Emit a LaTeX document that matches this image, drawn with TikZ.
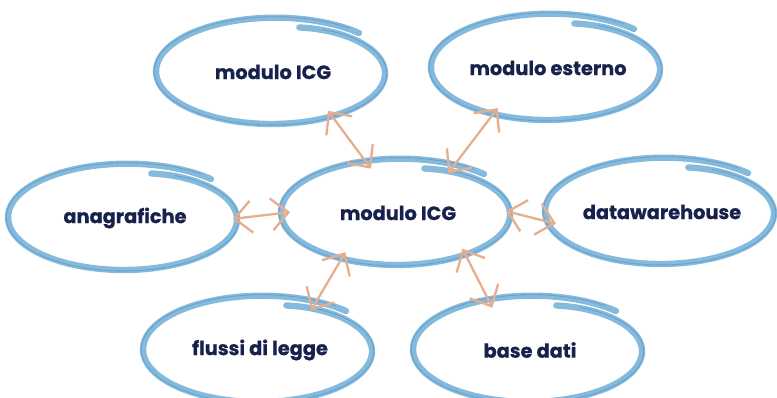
\documentclass[tikz,border=0pt]{standalone}
\usepackage{fontspec}
\setmainfont{Poppins}[BoldFeatures={FakeBold=0.8}]
\usetikzlibrary{shapes.geometric,arrows.meta}

\definecolor{loopblue}{HTML}{86BADD}
\definecolor{loopedge}{HTML}{4F8DBE}
\definecolor{linktan}{HTML}{E6AE8C}
\definecolor{labelnavy}{HTML}{18204C}

\begin{document}
\begin{tikzpicture}[x=0.02cm,y=0.02cm,
    topic/.style={ellipse,minimum width=4.6cm,minimum height=2.08cm,inner sep=0pt,
      font=\fontsize{11}{13}\selectfont\bfseries,text=labelnavy},
    link/.style={linktan,line width=1.3pt,line cap=round,
      {Straight Barb[length=3.4mm,width=6.4mm]}-{Straight Barb[length=3.4mm,width=6.4mm]},
      shorten <=-1.5mm,shorten >=-1.5mm}]

        % Frame
        \useasboundingbox (0,0) rectangle (777,397);

        % Topics
        \node[topic] (icgtop) at (273,325) {modulo ICG};
        \node[topic] (esterno) at (548,329) {modulo esterno};
        \node[topic] (anagrafiche) at (125,179) {anagrafiche};
        \node[topic] (icg) at (398,184) {modulo ICG};
        \node[topic] (dwh) at (662,185) {datawarehouse};
        \node[topic] (flussi) at (260,47) {flussi di legge};
        \node[topic] (base) at (530,47) {base dati};

        % Hand-drawn loops
        \foreach \n in {icgtop,esterno,anagrafiche,icg,dwh,flussi,base}{
          \draw[loopblue,line width=3.6pt,line cap=round,shift={(\n.center)}]
            plot[domain=0:390,samples=90,smooth]
            ({117*(0.97-0.1*exp(-\x/40)+0.07*(\x/390)^2)*cos(75-\x)},{53*(0.97-0.1*exp(-\x/40)+0.07*(\x/390)^2)*sin(75-\x)});
          \draw[loopedge,line width=0.5pt,opacity=0.55,shift={(\n.center)}]
            plot[domain=10:380,samples=90,smooth]
            ({119*(0.97-0.1*exp(-\x/40)+0.07*(\x/390)^2)*cos(72-\x)},{54*(0.97-0.1*exp(-\x/40)+0.07*(\x/390)^2)*sin(72-\x)});
        }

        % Links
        \draw[link] (icgtop.-37) -- (icg.122);
        \draw[link] (esterno.220) -- (icg.40);
        \draw[link] (anagrafiche.east) -- (icg.west);
        \draw[link] (icg.east) -- (dwh.185);
        \draw[link] (icg.219) -- (flussi.40);
        \draw[link] (icg.-32) -- (base.130);

\end{tikzpicture}
\end{document}
